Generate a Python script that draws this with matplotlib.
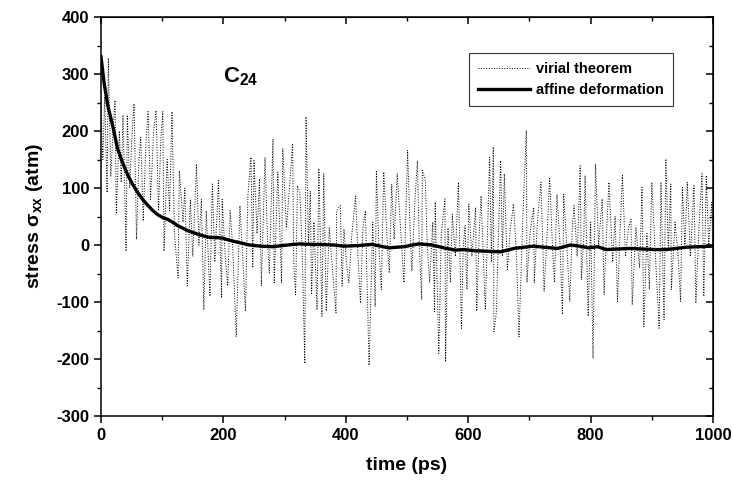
import numpy as np
import matplotlib
matplotlib.use("Agg")
import matplotlib.pyplot as plt
from matplotlib.ticker import MultipleLocator

plt.rcParams['font.family'] = ['Liberation Sans', 'DejaVu Sans']
plt.rcParams['font.weight'] = 'bold'
plt.rcParams['axes.unicode_minus'] = False
plt.rcParams['mathtext.fontset'] = 'custom'
plt.rcParams['mathtext.rm'] = 'Liberation Sans:bold'
plt.rcParams['mathtext.it'] = 'Liberation Sans:bold'
plt.rcParams['mathtext.bf'] = 'Liberation Sans:bold'

# virial theorem (noisy)
virial_t = [0, 3, 6, 10, 12, 16, 20, 23, 25, 30, 33, 36, 41, 43, 47, 50, 54, 58, 62, 65,
            69, 73, 77, 81, 86, 90, 94, 98, 101, 103, 108, 112, 116, 120, 126, 128, 134, 137, 141, 146,
            150, 156, 160, 164, 168, 172, 176, 178, 182, 186, 192, 197,
            198, 203, 207, 211, 215, 221, 227, 232, 236, 240, 245, 248, 250, 255, 259, 262, 268, 272,
            275, 281, 283, 289, 295, 297, 303, 308, 313, 315, 318, 321, 325, 329, 333, 335, 339, 342,
            344, 348, 353, 356, 361, 364, 368, 373, 378, 384, 385, 391, 394,
            397, 401, 405, 410, 416, 420, 424, 428, 432, 438, 444, 448, 450, 454, 458, 462, 467, 471,
            475, 479, 484, 490, 495, 501, 505, 508, 513, 517, 520, 524, 525, 530, 533, 537, 542, 545,
            546, 552, 556, 562, 563, 567, 571, 574, 579, 584, 589, 592, 595, 597,
            598, 601, 606, 612, 614, 618, 621, 628, 632, 635, 638, 641, 642, 646, 650, 653, 656, 659,
            664, 669, 674, 679, 683, 689, 695, 696, 701, 707, 708, 713, 719, 724, 729, 733, 738, 741,
            745, 750, 754, 756, 761, 766, 770, 773, 778, 783, 785, 789, 791, 796,
            800, 804, 808, 813, 819, 822, 826, 830, 836, 840, 844, 848, 852, 857, 862, 866, 868, 874,
            880, 884, 887, 892, 896, 900, 905, 912, 915, 920, 923, 927, 931, 932, 938, 943, 947, 950,
            954, 958, 963, 969, 972, 977, 982, 985, 989, 993, 998, 1000]
virial_v = [250, 150, 260, 92, 328, 120, 210, 254, 57, 200, 110, 228, -11, 228, 100, 180, 248, 10, 150, 189,
            42, 170, 234, 80, 200, 236, 60, 190, 234, -11, 150, 60, 234, 20, -58, 130, 40, 100, -72, 80,
            -20, 142, 0, 80, -114, 60, -40, -90, 107, -30, 113, -93,
            80, -20, -72, 60, 0, -161, 69, -30, -116, 86, 154, -40, 148, 20, 116, -72, 154, 10,
            -49, 186, -66, 128, -66, 169, 30, 100, 178, -34, -87, 104, 92, -20, -208, 225, 0, 95,
            -87, 40, -114, 134, -125, 125, -116, 30, -40, -119, 60, 69, -72,
            28, -30, -66, 20, 86, -20, -102, 30, 60, -211, 40, -108, 131, 0, -78, 128, 20, -49,
            107, 10, 125, 20, -66, 166, 30, -46, 80, 148, 0, -96, 131, 113, 0, -66, 40, -119,
            75, -190, 20, 81, -205, 30, -66, 54, -20, 110, -146, 0, 34, -55,
            -78, 72, -20, 66, -116, 20, 86, -114, 40, 154, -30, 172, -152, -119, 40, 148, -20, 125,
            -43, 30, 72, -20, -161, 40, 201, -66, 20, 66, -66, 40, 110, -81, 20, 119, -10, -66,
            89, 0, -122, 89, 0, -99, 30, 69, -20, 139, -61, 20, 122, -125,
            40, -199, 142, 0, 81, -87, 20, 110, -30, 50, -99, 20, 122, -20, 30, 45, -105, 30,
            -40, 101, -143, 20, -78, 110, 0, -146, 110, -131, 151, -10, 107, -78, 40, -20, -99, 101,
            0, 110, -20, 104, -102, 30, 125, -90, 122, 0, 75, -43]

# affine deformation (smooth decay)
affine_t = [0, 5, 11, 20, 27, 35, 44, 52, 60, 68, 77, 85, 93, 101, 109, 117, 125, 133, 142, 150,
            158, 170, 180, 190, 199, 205, 215, 227, 243, 260, 280, 305, 325, 340, 358, 380, 398, 420, 443, 470,
            495, 519, 541, 560, 579, 593, 610, 630, 653, 675, 690, 707, 725, 746, 767, 782, 797, 812, 825, 845,
            863, 885, 905, 923, 940, 955, 975, 999]
affine_v = [330, 285, 245, 205, 169, 145, 122, 106, 92, 80, 69, 60, 53, 48, 45, 40, 34, 30, 25, 22,
            19, 15, 13, 13, 12, 10, 7, 4, 0, -2, -3, 0, 2, 1, 1, 0, -2, -1, 1, -5,
            -3, 2, 0, -5, -9, -8, -10, -11, -12, -6, -4, -2, -4, -6, 0, -2, -5, -3, -8, -7,
            -6, -7, -8, -8, -6, -4, -3, -2]

fig = plt.figure(figsize=(7.33, 4.87), dpi=100)
ax = fig.add_axes([101 / 733, 71 / 487, 612 / 733, 399 / 487])

ax.plot(virial_t, virial_v, color='black', linestyle=':', linewidth=0.7, label='virial theorem')
ax.plot(affine_t, affine_v, color='black', linewidth=2.4, label='affine deformation')

ax.set_xlim(0, 1000)
ax.set_ylim(-300, 400)
ax.xaxis.set_major_locator(MultipleLocator(200))
ax.xaxis.set_minor_locator(MultipleLocator(100))
ax.yaxis.set_major_locator(MultipleLocator(100))
ax.yaxis.set_minor_locator(MultipleLocator(50))
ax.tick_params(which='major', direction='out', length=5, width=1.1, labelsize=12)
ax.tick_params(which='minor', direction='out', length=3, width=1.0)
for lab in ax.get_xticklabels() + ax.get_yticklabels():
    lab.set_fontweight('bold')
for s in ax.spines.values():
    s.set_linewidth(1.1)

# inward ticks on top and right, no labels
top = ax.secondary_xaxis('top')
top.xaxis.set_major_locator(MultipleLocator(200))
top.xaxis.set_minor_locator(MultipleLocator(100))
top.tick_params(which='major', direction='in', length=5, width=1.1, labeltop=False)
top.tick_params(which='minor', direction='in', length=3, width=1.0)
right = ax.secondary_yaxis('right')
right.yaxis.set_major_locator(MultipleLocator(100))
right.yaxis.set_minor_locator(MultipleLocator(50))
right.tick_params(which='major', direction='in', length=5, width=1.1, labelright=False)
right.tick_params(which='minor', direction='in', length=3, width=1.0)

ax.set_xlabel('time (ps)', fontsize=14, fontweight='bold', labelpad=10)
ax.set_ylabel(r'stress $\sigma_{xx}$ (atm)', fontsize=14, fontweight='bold', labelpad=8)

ax.text(200, 285, r'C$_{24}$', fontsize=16, fontweight='bold')

leg = ax.legend(loc='upper right', bbox_to_anchor=(0.946, 0.927), fontsize=10.5,
                frameon=True, fancybox=False, handlelength=3.6, borderpad=0.6,
                labelspacing=0.5, handletextpad=0.4)
leg.get_frame().set_edgecolor('black')
leg.get_frame().set_linewidth(0.8)
for t in leg.get_texts():
    t.set_fontweight('bold')

fig.savefig('out.png', dpi=100)
